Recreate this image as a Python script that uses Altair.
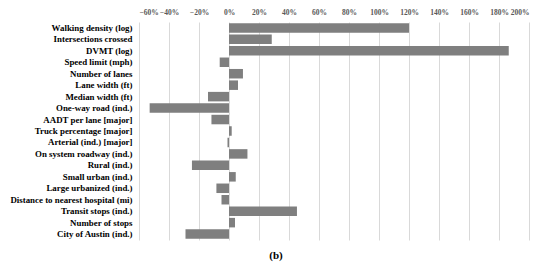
import altair as alt
import pandas as pd

categories = [
    "Walking density (log)", "Intersections crossed", "DVMT (log)",
    "Speed limit (mph)", "Number of lanes", "Lane width (ft)",
    "Median width (ft)", "One-way road (ind.)", "AADT per lane [major]",
    "Truck percentage [major]", "Arterial (ind.) [major]",
    "On system roadway (ind.)", "Rural (ind.)", "Small urban (ind.)",
    "Large urbanized (ind.)", "Distance to nearest hospital (mi)",
    "Transit stops (ind.)", "Number of stops", "City of Austin (ind.)",
]
values = [120, 28.5, 186.5, -6.2, 9.3, 6.0, -14.0, -52.9, -11.7, 1.8, -1.0,
          12.3, -24.7, 4.5, -8.4, -5.0, 45.3, 4.0, -29.0]
ticks = [-60, -40, -20, 0, 20, 40, 60, 80, 100, 120, 140, 160, 180, 200]

df = pd.DataFrame({"cat": categories, "val": [v / 100 for v in values]})

chart = alt.Chart(df).mark_bar(color="#7f7f7f").encode(
    x=alt.X("val:Q",
            scale=alt.Scale(domain=[-0.6, 2.0], nice=False, zero=False),
            axis=alt.Axis(orient="top", format=".0%", values=[t / 100 for t in ticks],
                          title=None, ticks=False, domain=False,
                          labelOverlap=False,
                          labelFont="Liberation Serif", labelFontWeight="bold",
                          labelFontSize=7.5, labelColor="#595959", labelPadding=6,
                          gridColor="#d9d9d9", gridWidth=1)),
    y=alt.Y("cat:N", sort=categories,
            scale=alt.Scale(paddingInner=0.17, paddingOuter=0.1),
            axis=alt.Axis(title=None, ticks=False, domain=False, grid=False,
                          labelFont="Liberation Serif", labelFontWeight="bold",
                          labelFontSize=8.9, labelColor="#000000", labelPadding=7,
                          labelLimit=200)),
).properties(
    width=390, height=218,
    title=alt.TitleParams("(b)", orient="bottom", anchor="middle", dx=-58,
                          font="Liberation Serif", fontWeight="bold",
                          fontSize=11, color="#000000", offset=10),
    autosize=alt.AutoSizeParams(type="none"),
    padding={"left": 131, "top": 14, "right": 10, "bottom": 30},
).configure_view(stroke=None)

chart.save("out.html", embed_options={"renderer": "svg", "actions": False})
